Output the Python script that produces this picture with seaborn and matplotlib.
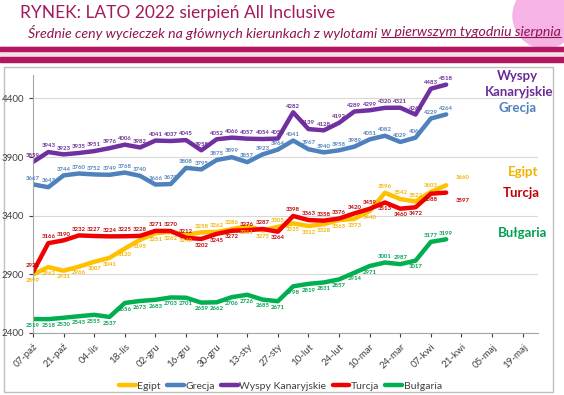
import matplotlib.pyplot as plt
import matplotlib.patches as mpatches
from matplotlib.lines import Line2D
import pandas as pd
import seaborn as sns

# weekly prices, first departure week 07-paz-2021
weeks = pd.date_range('2021-10-07', periods=28, freq='7D')

egipt = [2899, 2962, 2931, 2966, 3007, 3041, 3120, 3195, 3251, 3262, 3240, 3258, 3262, 3286,
         3311, 3275, 3305, 3335, 3312, 3328, 3363, 3373, 3440, 3596, 3542, 3522, 3603, 3660]
grecja = [3667, 3643, 3744, 3760, 3752, 3749, 3768, 3740, 3666, 3670, 3808, 3795, 3875, 3899,
          3857, 3923, 3964, 4041, 3967, 3940, 3958, 3989, 4051, 4082, 4029, 4066, 4229, 4264]
wyspy = [3859, 3943, 3923, 3935, 3951, 3976, 4006, 3982, 4041, 4037, 4045, 3958, 4052, 4066,
         4057, 4054, 4058, 4282, 4139, 4128, 4192, 4289, 4299, 4320, 4321, 4263, 4483, 4518]
turcja = [2921, 3166, 3190, 3232, 3227, 3224, 3225, 3228, 3271, 3270, 3212, 3202, 3245, 3272,
          3276, 3287, 3264, 3398, 3363, 3358, 3376, 3420, 3459, 3513, 3460, 3472, 3588, 3597]
bulgaria = [2519, 2518, 2530, 2543, 2555, 2537, 2656, 2673, 2683, 2703, 2701, 2659, 2662, 2706,
            2726, 2685, 2671, 2798, 2819, 2831, 2857, 2914, 2971, 3001, 2987, 3017, 3177, 3199]

names = ['Egipt', 'Grecja', 'Wyspy Kanaryjskie', 'Turcja', 'Bułgaria']
colors = ['#FFC000', '#4F81BD', '#7030A0', '#F00000', '#00B050']
label_colors = ['#F2B300', '#4F81BD', '#6A2C96', '#C00000', '#00A050']

# default label side (1 above, -1 below) and points where the label sits on the other side
label_side = [-1, 1, 1, 1, -1]
label_flip = [{11, 12, 13, 16, 23, 24, 25, 26}, set(), set(),
              {11, 12, 13, 16, 23, 24, 25, 26}, {23, 24, 26, 27}]

tick_dates = pd.date_range('2021-10-07', '2022-05-19', freq='14D')
tick_labels = ['07-paź', '21-paź', '04-lis', '18-lis', '02-gru', '16-gru', '30-gru', '13-sty',
               '27-sty', '10-lut', '24-lut', '10-mar', '24-mar', '07-kwi', '21-kwi', '05-maj',
               '19-maj']

all_values = [egipt, grecja, wyspy, turcja, bulgaria]
df = pd.concat([pd.DataFrame({'date': weeks, 'cena': v, 'kierunek': n})
                for n, v in zip(names, all_values)], ignore_index=True)

sns.set_style('white')
plt.rcParams['font.family'] = ['Lato', 'DejaVu Sans']

W, H = 564, 395
fig = plt.figure(figsize=(W / 100, H / 100), dpi=100)

# header decoration
fig.add_artist(mpatches.Rectangle((0, 1 - 62 / H), 1, 16 / H, transform=fig.transFigure,
                                  color='#F7DDEA', zorder=0))
fig.add_artist(mpatches.Rectangle((0, 1 - 51 / H), 1, 4 / H, transform=fig.transFigure,
                                  color='#B3175F', zorder=1))
fig.add_artist(mpatches.Rectangle((0, 1 - 62 / H), 1, 5 / H, transform=fig.transFigure,
                                  color='#B3175F', zorder=1))
fig.add_artist(mpatches.Ellipse((545 / W, 1 - 16 / H), 64 / W, 64 / H, transform=fig.transFigure,
                                color='#F5B3E6', zorder=0))
# chart frame
fig.add_artist(mpatches.Rectangle((4 / W, 1 - 392 / H), 549 / W, 325 / H, transform=fig.transFigure,
                                  facecolor='white', edgecolor='#BFBFBF', lw=1, zorder=1))

fig.text(20 / W, 1 - 13 / H, 'RYNEK: LATO 2022 sierpień All Inclusive', fontsize=12.5,
         color='#A3195B', va='center', ha='left')

sub_kw = dict(fontsize=10.2, color='#8E1550', style='italic', va='center', ha='left')
t1 = fig.text(28 / W, 1 - 32 / H, 'Średnie ceny wycieczek na głównych kierunkach z wylotami', **sub_kw)
fig.canvas.draw()
r = fig.canvas.get_renderer()
bb1 = t1.get_window_extent(renderer=r)
t2 = fig.text((bb1.x1 + 3.5) / W, 1 - 32 / H, 'w pierwszym tygodniu sierpnia', **sub_kw)
bb2 = t2.get_window_extent(renderer=r)
fig.add_artist(Line2D([bb2.x0 / W, bb2.x1 / W], [(bb2.y0 + 1) / H] * 2, color='#8E1550', lw=0.8,
                      transform=fig.transFigure))

ax = fig.add_axes([33 / W, 1 - 333 / H, 505 / W, 258 / H])
ax.set_zorder(2)
ax.patch.set_alpha(0)
sns.lineplot(data=df, x='date', y='cena', hue='kierunek', palette=colors, linewidth=3.2,
             ax=ax, legend=True)

for k, (vals, c) in enumerate(zip(all_values, label_colors)):
    for i, (d, v) in enumerate(zip(weeks, vals)):
        side = -label_side[k] if i in label_flip[k] else label_side[k]
        dx = 0
        if i == len(vals) - 1 and k in (0, 3):
            dx, side = 12, (1.2 if k == 0 else -1.2)
        ax.annotate(str(v), (d, v), xytext=(dx, 4.5 * side), textcoords='offset points',
                    ha='center', va='center', fontsize=4.3, color=c, fontweight='bold')

ax.set_xlim(pd.Timestamp('2021-10-07'), pd.Timestamp('2022-05-26'))
ax.set_ylim(2400, 4600)
ax.set_yticks(range(2400, 4401, 500))
ax.set_xticks(tick_dates)
ax.set_xticklabels(tick_labels, rotation=45, ha='right', rotation_mode='anchor')
ax.tick_params(axis='both', labelsize=7, colors='#404040', length=3, width=0.8,
               direction='out', bottom=True, left=True)
ax.grid(axis='y', color='#D9D9D9', lw=0.8)
ax.set_xlabel('')
ax.set_ylabel('')
for s in ['top', 'right']:
    ax.spines[s].set_visible(False)
for s in ['left', 'bottom']:
    ax.spines[s].set_color('#A6A6A6')
    ax.spines[s].set_linewidth(0.8)

sns.move_legend(ax, 'center', bbox_to_anchor=(0.49, -0.205), ncol=5, frameon=False, title=None,
                fontsize=7.5, handlelength=1.6, handletextpad=0.15, columnspacing=0.6)
for t in ax.get_legend().get_texts():
    t.set_color('#404040')

# series names at the right side
side_labels = [('Wyspy', 517, 76, '#6A2C96'), ('Kanaryjskie', 519, 92, '#6A2C96'),
               ('Grecja', 518, 108, '#4F81BD'), ('Egipt', 523, 172, '#F2B300'),
               ('Turcja', 521, 193, '#C00000'), ('Bułgaria', 523, 233, '#00A050')]
for txt, x, y, c in side_labels:
    fig.text(x / W, 1 - y / H, txt, fontsize=9.5, fontweight='bold', color=c,
             ha='center', va='center', zorder=5)

fig.savefig('out.png', dpi=100)
